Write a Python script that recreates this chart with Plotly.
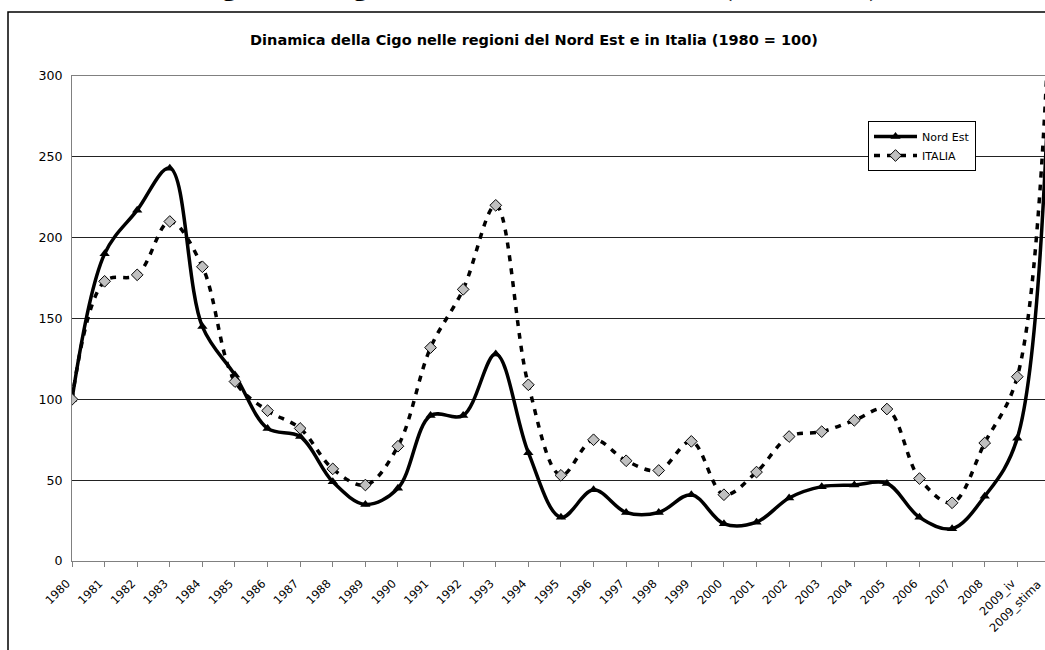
import plotly.graph_objects as go

categories = ["1980", "1981", "1982", "1983", "1984", "1985", "1986", "1987", "1988", "1989",
              "1990", "1991", "1992", "1993", "1994", "1995", "1996", "1997", "1998", "1999",
              "2000", "2001", "2002", "2003", "2004", "2005", "2006", "2007", "2008",
              "2009_iv", "2009_stima"]
nord_est = [100, 190, 217, 243, 145, 115, 82, 77, 49, 35, 45, 90, 90, 128, 67, 27, 44, 30, 30, 41,
            23, 24, 39, 46, 47, 48, 27, 20, 40, 76, 315]
italia = [100, 173, 177, 210, 182, 111, 93, 82, 57, 47, 71, 132, 168, 220, 109, 53, 75, 62, 56, 74,
          41, 55, 77, 80, 87, 94, 51, 36, 73, 114, 345]
y_ticks = [0, 50, 100, 150, 200, 250, 300]

chart_title = "Dinamica della Cigo nelle regioni del Nord Est e in Italia (1980 = 100)"

W, H = 1045, 650
ML, MR, MT, MB = 72, 0, 76, 89
plot_w = W - ML - MR
plot_h = H - MT - MB
x_hi = 29.85  # last category lies just past the right edge of the window

FONT = "DejaVu Sans"
XFONT = 11.5
PAD = "\u00a0\u00a0"  # nudges each rotated label down-left, as in the original

fig = go.Figure()
fig.add_trace(go.Scatter(
    x=categories, y=nord_est, name="Nord Est", mode="lines+markers",
    line=dict(color="black", width=3.5, shape="spline", smoothing=1.0),
    marker=dict(symbol="triangle-up", size=9, color="black"),
))
fig.add_trace(go.Scatter(
    x=categories, y=italia, name="ITALIA", mode="lines+markers",
    line=dict(color="black", width=3.5, shape="spline", smoothing=1.0, dash="6px,7px"),
    marker=dict(symbol="diamond", size=9, color="#C0C0C0", line=dict(color="black", width=1)),
))


def px_x(px):
    """window pixel x -> paper fraction"""
    return (px - ML) / plot_w


def px_y(py):
    """window pixel y -> paper fraction"""
    return (H - MB - py) / plot_h


fig.update_layout(
    width=W, height=H,
    margin=dict(l=ML, r=MR, t=MT, b=MB),
    paper_bgcolor="white", plot_bgcolor="white",
    font=dict(family=FONT, size=13, color="black"),
    title=dict(text="<b>" + chart_title + "</b>", xref="container", x=534 / W,
               yref="container", y=1 - 40 / H, xanchor="center", yanchor="middle",
               font=dict(family=FONT, size=14.5, color="black")),
    showlegend=True,
    legend=dict(x=px_x(868), y=px_y(121), xanchor="left", yanchor="top",
                bordercolor="black", borderwidth=1, bgcolor="white",
                font=dict(family=FONT, size=11), tracegroupgap=0,
                itemwidth=43),
    xaxis=dict(type="category", range=[0, x_hi], showgrid=False,
               showline=True, linecolor="#808080", linewidth=1, mirror=True,
               ticks="outside", ticklen=5, tickcolor="#808080",
               tickangle=-45, tickvals=categories, ticktext=[c + PAD for c in categories],
               tickfont=dict(family=FONT, size=XFONT), zeroline=False),
    yaxis=dict(range=[0, 300], tickvals=y_ticks, showgrid=True, gridcolor="#222222", gridwidth=1,
               showline=True, linecolor="#808080", linewidth=1, ticks="",
               ticklabelstandoff=6, tickfont=dict(family=FONT, size=12.6), zeroline=False),
)

# tick label of the last category (its tick sits just beyond the window edge)
fig.add_annotation(text=categories[-1], xref="paper", yref="paper",
                   x=px_x(1047), y=px_y(575), xanchor="right", yanchor="top",
                   textangle=-45, showarrow=False, font=dict(family=FONT, size=XFONT))

# page heading, mostly cut off above the frame
fig.add_annotation(text="<b>" + chart_title + "</b>", xref="paper", yref="paper",
                   x=px_x(881), y=px_y(3.5), xanchor="right", yanchor="bottom",
                   showarrow=False, font=dict(family="Liberation Serif", size=30, color="black"))

# outer chart frame
fig.add_shape(type="rect", xref="paper", yref="paper",
              x0=px_x(8), x1=px_x(1100), y0=px_y(12), y1=px_y(700),
              line=dict(color="black", width=1.5), fillcolor="rgba(0,0,0,0)", layer="below")

# the figure fills the window exactly: drop the page's default body margin
fig.write_html("out.html", config={"displayModeBar": False},
               post_script="document.body.style.margin='0';")
